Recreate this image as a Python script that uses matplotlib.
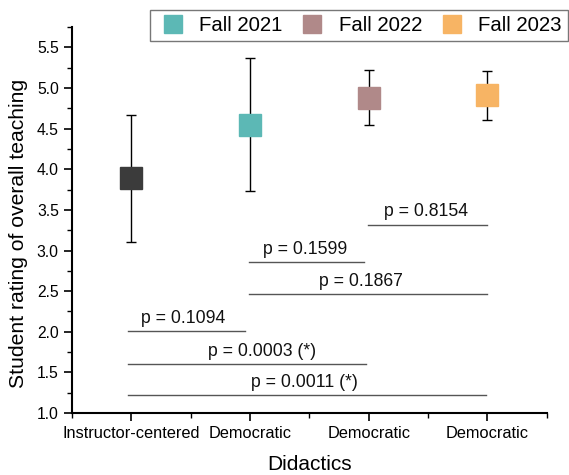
import matplotlib
matplotlib.use("Agg")
import matplotlib.pyplot as plt
from matplotlib.lines import Line2D
from matplotlib.ticker import MultipleLocator

plt.rcParams["font.family"] = ["Liberation Sans", "DejaVu Sans"]

# data
categories = ["Instructor-centered", "Democratic", "Democratic", "Democratic"]
means = [3.89, 4.55, 4.88, 4.91]
errors = [0.78, 0.82, 0.34, 0.30]
colors = ["#3b3b3b", "#5cb8b5", "#b08989", "#f7b464"]
legend_labels = ["Fall 2021", "Fall 2022", "Fall 2023"]

# comparisons: start, end, level, label, label x
comp_start = [0.97, 0.97, 0.97, 1.99, 1.99, 2.99]
comp_end = [1.96, 2.98, 3.99, 2.96, 4.0, 4.0]
comp_y = [2.01, 1.60, 1.22, 2.86, 2.46, 3.32]
comp_text = ["p = 0.1094", "p = 0.0003 (*)", "p = 0.0011 (*)",
             "p = 0.1599", "p = 0.1867", "p = 0.8154"]
comp_text_x = [1.44, 2.10, 2.46, 2.46, 2.93, 3.48]

fig = plt.figure(figsize=(5.69, 4.75), dpi=100)
ax = fig.add_axes([0.1265, 0.1305, 0.8345, 0.8125])

x = [1, 2, 3, 4]
for xi, m, e, c in zip(x, means, errors, colors):
    ax.errorbar(xi, m, yerr=e, fmt="none", ecolor="black", elinewidth=1.0,
                capsize=3.5, capthick=1.0, zorder=2)
    ax.plot(xi, m, marker="s", markersize=15.5, color=c, markeredgecolor=c,
            linestyle="none", zorder=3)

for x0, x1, yy, t, tx in zip(comp_start, comp_end, comp_y, comp_text, comp_text_x):
    ax.plot([x0, x1], [yy, yy], color="#555555", linewidth=1.0, zorder=1)
    ax.text(tx, yy + 0.1, t, ha="center", va="baseline", fontsize=12.7, color="#111111")

ax.set_xlim(0.5, 4.5)
ax.set_ylim(1.0, 5.75)
ax.set_xticks(x)
ax.set_xticklabels(categories, fontsize=11.8)
ax.xaxis.set_minor_locator(MultipleLocator(0.5))
ax.yaxis.set_major_locator(MultipleLocator(0.5))
ax.yaxis.set_minor_locator(MultipleLocator(0.25))
ax.tick_params(axis="y", labelsize=11.3)
ax.tick_params(which="major", length=6, width=1.2, direction="out")
ax.tick_params(which="minor", length=3.5, width=1.0, direction="out")
ax.spines["top"].set_visible(False)
ax.spines["right"].set_visible(False)
ax.spines["left"].set_linewidth(1.5)
ax.spines["bottom"].set_linewidth(1.5)

ax.set_xlabel("Didactics", fontsize=15, labelpad=10)
ax.set_ylabel("Student rating of overall teaching", fontsize=15.2, labelpad=6)
ax.yaxis.set_label_coords(-0.093, 0.466)

handles = [Line2D([], [], marker="s", linestyle="none", markersize=13,
                  color=c, markeredgecolor=c) for c in colors[1:]]
fig.legend(handles, legend_labels, loc="upper right", ncol=3,
           bbox_to_anchor=(0.998, 0.979), borderaxespad=0, fontsize=14.7,
           frameon=True, fancybox=False, edgecolor="#555555", handletextpad=0.5,
           columnspacing=0.65, borderpad=0.3, handlelength=1.6)

fig.savefig("out.png", dpi=100)
